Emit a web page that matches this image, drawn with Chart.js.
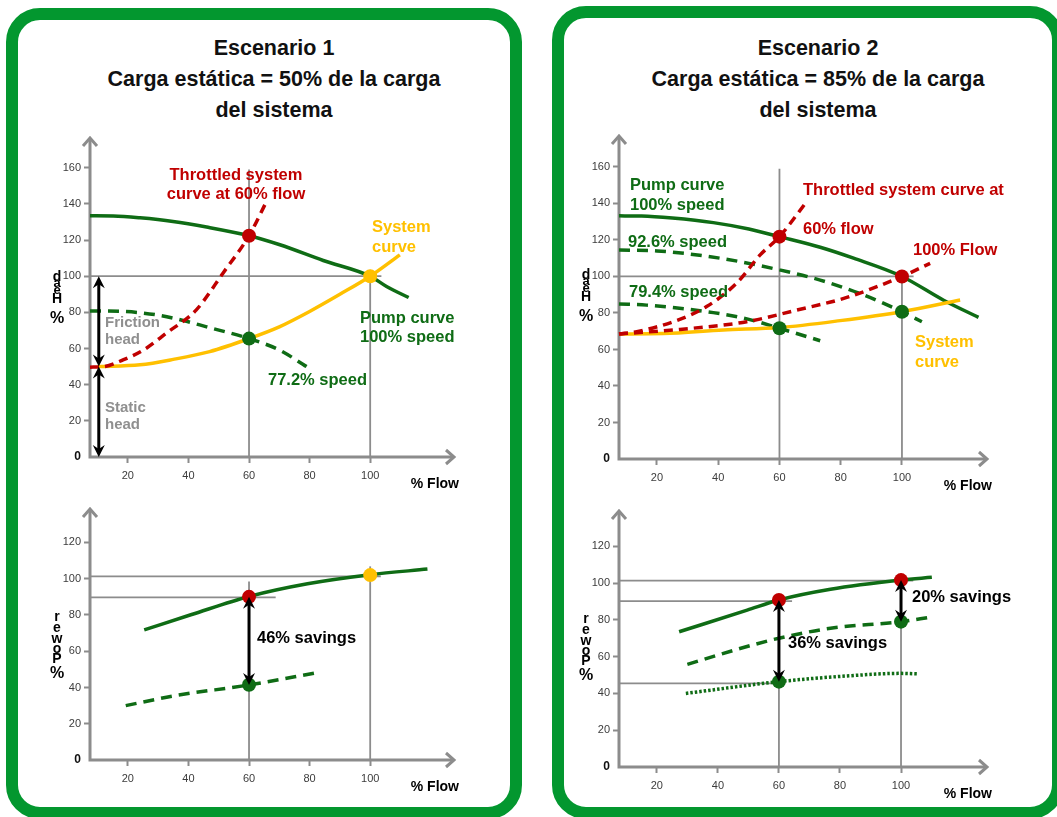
<!DOCTYPE html>
<html>
<head>
<meta charset="utf-8">
<script src="https://cdn.jsdelivr.net/npm/chart.js@4.4.1/dist/chart.umd.min.js"></script>
<style>
  html, body { margin: 0; padding: 0; background: #fff; width: 1057px; height: 817px; overflow: hidden; position: relative; font-family: Arial, "Liberation Sans", sans-serif; }
  .panel { position: absolute; box-sizing: border-box; border: 12px solid #03972f; border-radius: 34px; background: #fff; }
  .title { position: absolute; width: 420px; text-align: center; font-weight: bold; font-size: 21.5px; line-height: 31px; color: #111; }
  canvas { position: absolute; }
</style>
</head>
<body>
<div class="panel" style="left:6px;top:8px;width:516px;height:811px"></div>
<div class="panel" style="left:552px;top:6px;width:512px;height:813px"></div>
<div class="title" style="left:64px;top:33px">Escenario 1<br>Carga estática = 50% de la carga<br>del sistema</div>
<div class="title" style="left:608px;top:33px">Escenario 2<br>Carga estática = 85% de la carga<br>del sistema</div>
<canvas id="head1" width="490" height="370" style="left:20px;top:125px"></canvas>
<canvas id="head2" width="485" height="375" style="left:565px;top:125px"></canvas>
<canvas id="power1" width="490" height="310" style="left:20px;top:495px"></canvas>
<canvas id="power2" width="485" height="310" style="left:565px;top:495px"></canvas>
<script>
// ===== DATA =====
const flowTicks = [20, 40, 60, 80, 100];
const headTicks = [0, 20, 40, 60, 80, 100, 120, 140, 160];
const powerTicks = [0, 20, 40, 60, 80, 100, 120];

// Escenario 1 - head (% flow, % head)
const s1Pump100 = [[7.5, 133.4], [15.2, 133.3], [24, 132.3], [34.9, 130.3], [46, 127.2], [60, 122.4], [70.2, 117.4], [84.5, 108.7], [100, 100], [105.4, 94.3], [112.7, 88.2]];
const s1Pump772 = [[7.5, 80.8], [18.4, 80.5], [30, 78.5], [38.3, 75.5], [46, 72], [60, 65.5], [70, 59.2], [79, 50]];
const s1System = [[10, 50], [24, 51], [35, 54], [47, 58.3], [60, 65.5], [70, 72], [80, 80.5], [90, 90], [100, 100], [109.8, 111.8]];
const s1Throttled = [[7.5, 49.7], [12, 50], [18.4, 53.7], [25, 59], [32.7, 68.5], [42.6, 81.4], [51.4, 101.7], [60, 122.4], [65.8, 141.4]];
const s1RedPts = [[60, 122.4]];
const s1GreenPts = [[60, 65.5]];
const s1YellowPts = [[100, 100]];
const s1Guides = [[[7.5, 100], [103.7, 100]], [[60, 0], [60, 159]], [[100, 0], [100, 103.5]]];
const s1Arrows = [[10.4, 0, 50], [10.4, 50, 100]];

// Escenario 2 - head
const s2Pump100 = [[7.6, 133.2], [15, 133.1], [25, 132], [38.4, 129.5], [50, 126], [60, 121.8], [73.3, 116], [84.2, 110], [100, 100], [113.6, 87], [125, 77.6]];
const s2Pump926 = [[7.6, 114.5], [20, 114], [40.6, 110], [60, 103.6], [73.3, 98], [87.4, 89.9], [100, 80.7], [106.5, 75.2]];
const s2Pump794 = [[7.6, 84.9], [16.6, 84.3], [38.4, 80.2], [50, 76.5], [60, 71.6], [73.3, 64.8]];
const s2System = [[7.6, 68.5], [22, 68.7], [41.7, 70.7], [60, 72], [79.8, 75.8], [100, 80.7], [119, 87.1]];
const s2Throttled60 = [[7.6, 68.5], [13.4, 69.8], [25.3, 75.2], [36.2, 83.5], [46, 96.3], [53.7, 111.8], [60, 121.8], [68.9, 141]];
const s2Throttled100 = [[7.6, 68.5], [27.5, 71], [49.3, 75.2], [65.7, 81.6], [82, 88.5], [100, 100], [109.2, 107.2]];
const s2RedPts = [[60, 121.8], [100, 100]];
const s2GreenPts = [[60, 71.6], [100, 80.7]];
const s2Guides = [[[7.6, 100], [103.8, 100]], [[60, 0], [60, 159]], [[100, 0], [100, 103.5]]];

// Escenario 1 - power (% flow, % power)
const p1Full = [[25.4, 71.8], [40.8, 80.1], [60, 90.2], [79.3, 97.2], [100, 102.2], [118.9, 105.3]];
const p1Reduced = [[19.3, 30], [35.3, 35.4], [60, 41.4], [82.6, 48.2]];
const p1RedPts = [[60, 90]];
const p1GreenPts = [[60, 41.5]];
const p1YellowPts = [[100, 102]];
const p1Guides = [[[7.5, 101.3], [103.5, 101.3]], [[7.5, 89.7], [68.8, 89.7]], [[60, 0], [60, 98.5]], [[100, 0], [100, 106.8]]];
const p1Arrows = [[60, 90, 41.4]];

// Escenario 2 - power
const p2Full = [[27.3, 73.5], [49.6, 85.3], [60, 90.8], [76.9, 96.6], [100, 101.6], [110.1, 103.1]];
const p2Speed926 = [[30, 55.8], [46.4, 64], [60, 70], [76.9, 75.4], [100, 79], [109.5, 81.4]];
const p2Speed794 = [[29.5, 40], [60, 46.4], [82.3, 49.5], [100, 50.9], [105.7, 50.6]];
const p2RedPts = [[60, 90.8], [100, 101.6]];
const p2GreenPts = [[60, 46.4], [100, 79]];
const p2Guides = [[[7.6, 101.3], [104, 101.3]], [[7.6, 90.2], [64.3, 90.2]], [[7.6, 45.5], [60, 45.5]], [[60, 0], [60, 90]], [[100, 0], [100, 105]]];
const p2Arrows = [[60, 90.8, 46.4], [100, 101.6, 79]];

// ===== STYLE =====
const GREEN = "#0f6c15";
const RED = "#c00000";
const YELLOW = "#ffc000";
const GREY = "#8c8c8c";
const LABEL_GREY = "#8f8f8f";
const FONT = 'Arial, "Liberation Sans", sans-serif';
Chart.defaults.font.family = FONT;

const pts = a => a.map(([x, y]) => ({ x, y }));

function curve(data, color, dash) {
  return {
    data: pts(data), showLine: true, borderColor: color, borderWidth: 3.5,
    borderDash: dash || [], pointRadius: 0, cubicInterpolationMode: "monotone",
    fill: false, order: 1, clip: false
  };
}
function dots(data, color) {
  return {
    data: pts(data), showLine: false, pointRadius: 7, pointHoverRadius: 7,
    pointBackgroundColor: color, pointBorderColor: color, pointBorderWidth: 0,
    order: 0, clip: false
  };
}
function guides(list) {
  return list.map(seg => ({
    data: pts(seg), showLine: true, borderColor: GREY, borderWidth: 1.8,
    pointRadius: 0, order: 2, clip: false
  }));
}

// ===== DRAWING HELPERS =====
function arrowHead(ctx, px, py, dir) {
  // tip at (px, py); dir = 1 points down, -1 points up
  ctx.beginPath();
  ctx.moveTo(px, py);
  ctx.lineTo(px - 6, py - dir * 12);
  ctx.lineTo(px, py - dir * 8);
  ctx.lineTo(px + 6, py - dir * 12);
  ctx.closePath();
  ctx.fill();
}

function overlay(cfg) {
  return {
    id: "overlay",
    beforeDatasetsDraw(chart) {
      const { ctx, chartArea: a } = chart;
      ctx.save();
      ctx.strokeStyle = GREY;
      ctx.lineWidth = 3;
      ctx.beginPath();
      ctx.moveTo(a.left, a.bottom);
      ctx.lineTo(a.left, a.top + 1);
      ctx.moveTo(a.left - 1.5, a.bottom);
      ctx.lineTo(a.right - 1, a.bottom);
      ctx.stroke();
      ctx.beginPath();
      ctx.moveTo(a.left - 7, a.top + 9);
      ctx.lineTo(a.left, a.top + 1);
      ctx.lineTo(a.left + 7, a.top + 9);
      ctx.moveTo(a.right - 9, a.bottom - 7);
      ctx.lineTo(a.right - 1, a.bottom);
      ctx.lineTo(a.right - 9, a.bottom + 7);
      ctx.stroke();
      ctx.restore();
    },
    afterDatasetsDraw(chart) {
      const { ctx, chartArea: a, scales: { x, y } } = chart;
      const r = chart.canvas.getBoundingClientRect();
      ctx.save();

      // double arrows
      ctx.strokeStyle = "#000";
      ctx.fillStyle = "#000";
      ctx.lineWidth = 3;
      (cfg.arrows || []).forEach(([fx, v0, v1]) => {
        const px = x.getPixelForValue(fx);
        const p0 = y.getPixelForValue(Math.max(v0, v1));
        const p1 = y.getPixelForValue(Math.min(v0, v1));
        ctx.beginPath();
        ctx.moveTo(px, p0 + 6);
        ctx.lineTo(px, p1 - 6);
        ctx.stroke();
        arrowHead(ctx, px, p0, -1);
        arrowHead(ctx, px, p1, 1);
      });

      // annotation text
      ctx.textBaseline = "middle";
      (cfg.labels || []).forEach(l => {
        ctx.font = "bold " + (l.size || 16.5) + "px " + FONT;
        ctx.fillStyle = l.color;
        ctx.textAlign = l.align || "left";
        ctx.fillText(l.text, l.x - r.left, l.y - r.top);
      });

      // stacked y-axis title
      ctx.fillStyle = "#000";
      ctx.textAlign = "center";
      ctx.textBaseline = "alphabetic";
      cfg.yTitle.forEach(([ch, dy, size]) => {
        ctx.font = "bold " + size + "px " + FONT;
        ctx.fillText(ch, a.left - 33, a.top + dy);
      });

      // x-axis title
      ctx.font = "bold 14px " + FONT;
      ctx.textAlign = "right";
      ctx.textBaseline = "middle";
      ctx.fillText("% Flow", a.right + 4, a.bottom + 27);
      ctx.restore();
    }
  };
}

function buildChart(id, o) {
  const tickFont = c => (c.tick && c.tick.value === 0) ? { size: 12, weight: "bold" } : { size: 11 };
  const tickColor = c => (c.tick && c.tick.value === 0) ? "#111" : "#3c3c3c";
  return new Chart(document.getElementById(id), {
    type: "scatter",
    data: { datasets: o.datasets },
    options: {
      responsive: false,
      animation: false,
      events: [],
      layout: { padding: o.pad },
      plugins: { legend: { display: false }, tooltip: { enabled: false } },
      scales: {
        x: {
          type: "linear", position: "bottom", min: o.xMin, max: o.xMax,
          afterBuildTicks: s => { s.ticks = flowTicks.map(v => ({ value: v })); },
          afterFit: s => { s.height = 30; },
          border: { display: false },
          grid: { drawOnChartArea: false, drawTicks: true, tickLength: 6, tickColor: GREY, tickWidth: 2 },
          ticks: { font: { size: 11 }, color: "#3c3c3c", padding: 6 }
        },
        y: {
          type: "linear", position: "left", min: 0, max: o.yMax,
          afterBuildTicks: s => { s.ticks = o.yTicks.map(v => ({ value: v })); },
          afterFit: s => { s.width = 40; },
          border: { display: false },
          grid: {
            drawOnChartArea: false, drawTicks: true, tickLength: 6, tickWidth: 2,
            tickColor: c => (c.tick && c.tick.value === 0) ? "rgba(0,0,0,0)" : GREY
          },
          ticks: { font: tickFont, color: tickColor, padding: 3 }
        }
      }
    },
    plugins: [overlay(o)]
  });
}

const headTitle = [["d", 144, 14], ["a", 150, 13], ["e", 157, 13], ["H", 166, 14], ["%", 186, 16]];
const powerTitle = [["r", 113, 14], ["e", 124, 14], ["w", 135, 14], ["o", 145, 14], ["P", 155, 14], ["%", 170, 16]];

// ===== CHARTS =====
buildChart("head1", {
  pad: { left: 30, top: 12, right: 55, bottom: 8 },
  xMin: 7.5, xMax: 128, yMax: 177, yTicks: headTicks,
  datasets: [
    dots(s1RedPts, RED), dots(s1GreenPts, GREEN), dots(s1YellowPts, YELLOW),
    curve(s1Throttled, RED, [9, 6]),
    curve(s1System, YELLOW),
    curve(s1Pump772, GREEN, [11, 7]),
    curve(s1Pump100, GREEN),
    ...guides(s1Guides)
  ],
  arrows: s1Arrows,
  yTitle: headTitle,
  labels: [
    { text: "Throttled system", x: 236, y: 175, color: RED, align: "center" },
    { text: "curve at 60% flow", x: 236, y: 194, color: RED, align: "center" },
    { text: "System", x: 372, y: 227, color: YELLOW },
    { text: "curve", x: 372, y: 247, color: YELLOW },
    { text: "Pump curve", x: 360, y: 318, color: GREEN },
    { text: "100% speed", x: 360, y: 337, color: GREEN },
    { text: "77.2% speed", x: 268, y: 380, color: GREEN },
    { text: "Friction", x: 105, y: 323, color: LABEL_GREY, size: 15 },
    { text: "head", x: 105, y: 340, color: LABEL_GREY, size: 15 },
    { text: "Static", x: 105, y: 408, color: LABEL_GREY, size: 15 },
    { text: "head", x: 105, y: 425, color: LABEL_GREY, size: 15 }
  ]
});

buildChart("head2", {
  pad: { left: 14, top: 10, right: 62, bottom: 11 },
  xMin: 7.6, xMax: 128.1, yMax: 177.5, yTicks: headTicks,
  datasets: [
    dots(s2RedPts, RED), dots(s2GreenPts, GREEN),
    curve(s2Throttled60, RED, [9, 6]),
    curve(s2Throttled100, RED, [9, 6]),
    curve(s2System, YELLOW),
    curve(s2Pump926, GREEN, [11, 7]),
    curve(s2Pump794, GREEN, [11, 7]),
    curve(s2Pump100, GREEN),
    ...guides(s2Guides)
  ],
  yTitle: headTitle,
  labels: [
    { text: "Pump curve", x: 630, y: 185, color: GREEN },
    { text: "100% speed", x: 630, y: 205, color: GREEN },
    { text: "Throttled system curve at", x: 803, y: 190, color: RED },
    { text: "60% flow", x: 803, y: 229, color: RED },
    { text: "100% Flow", x: 913, y: 250, color: RED },
    { text: "92.6% speed", x: 628, y: 242, color: GREEN },
    { text: "79.4% speed", x: 629, y: 292, color: GREEN },
    { text: "System", x: 915, y: 342, color: YELLOW },
    { text: "curve", x: 915, y: 362, color: YELLOW }
  ]
});

buildChart("power1", {
  pad: { left: 30, top: 13, right: 55, bottom: 15 },
  xMin: 7.5, xMax: 128, yMax: 139, yTicks: powerTicks,
  datasets: [
    dots(p1RedPts, RED), dots(p1GreenPts, GREEN), dots(p1YellowPts, YELLOW),
    curve(p1Reduced, GREEN, [11, 7]),
    curve(p1Full, GREEN),
    ...guides(p1Guides)
  ],
  arrows: p1Arrows,
  yTitle: powerTitle,
  labels: [
    { text: "46% savings", x: 257, y: 638, color: "#000" }
  ]
});

buildChart("power2", {
  pad: { left: 14, top: 15, right: 62, bottom: 8 },
  xMin: 7.6, xMax: 128.5, yMax: 139.7, yTicks: powerTicks,
  datasets: [
    dots(p2RedPts, RED), dots(p2GreenPts, GREEN),
    curve(p2Speed794, GREEN, [2.5, 2]),
    curve(p2Speed926, GREEN, [11, 7]),
    curve(p2Full, GREEN),
    ...guides(p2Guides)
  ],
  arrows: p2Arrows,
  yTitle: powerTitle,
  labels: [
    { text: "20% savings", x: 912, y: 597, color: "#000" },
    { text: "36% savings", x: 788, y: 643, color: "#000" }
  ]
});
</script>
</body>
</html>
